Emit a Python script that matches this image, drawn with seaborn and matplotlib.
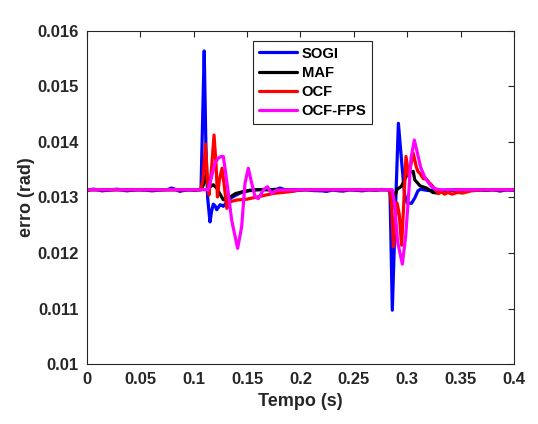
import matplotlib
matplotlib.use("Agg")
import matplotlib.pyplot as plt
import seaborn as sns
import pandas as pd

# ---------------- data ----------------
x_ticks = [0, 0.05, 0.1, 0.15, 0.2, 0.25, 0.3, 0.35, 0.4]
x_ticklabels = ["0", "0.05", "0.1", "0.15", "0.2", "0.25", "0.3", "0.35", "0.4"]
y_ticks = [0.010, 0.011, 0.012, 0.013, 0.014, 0.015, 0.016]
y_ticklabels = ["0.01", "0.011", "0.012", "0.013", "0.014", "0.015", "0.016"]

series_names = ["SOGI", "MAF", "OCF", "OCF-FPS"]
series_colors = ["#0000ff", "#000000", "#ff0000", "#ff00ff"]

sogi_t = [0.0, 0.003, 0.006, 0.010, 0.014, 0.019, 0.024, 0.028, 0.033, 0.037,
          0.042, 0.048, 0.054, 0.061, 0.066, 0.072, 0.076, 0.079, 0.083, 0.087,
          0.091, 0.096, 0.101, 0.1050, 0.1068, 0.1083, 0.1098, 0.1114, 0.1130,
          0.1152, 0.1168, 0.1183, 0.1200, 0.1215, 0.1230, 0.1246, 0.1262, 0.1277,
          0.1310, 0.1355, 0.1433, 0.1520, 0.1590, 0.1650, 0.1720, 0.1780, 0.1808,
          0.1855, 0.1920, 0.1980, 0.2050, 0.2120, 0.2200, 0.2245, 0.2300, 0.2360,
          0.2400, 0.2460, 0.2520, 0.2580, 0.2640, 0.2700, 0.2760, 0.2810, 0.2838,
          0.2860, 0.2888, 0.2917, 0.2945, 0.2975, 0.3000, 0.3040, 0.3070, 0.3100,
          0.3125, 0.3150, 0.3200, 0.3260, 0.3320, 0.3380, 0.3440, 0.3500, 0.3560,
          0.3620, 0.3680, 0.3740, 0.3800, 0.3870, 0.3930, 0.4000]
sogi_v = [0.013130, 0.013140, 0.013150, 0.013140, 0.013120, 0.013130, 0.013140, 0.013150, 0.013135, 0.013120,
          0.013130, 0.013140, 0.013135, 0.013120, 0.013130, 0.013140, 0.013145, 0.013170, 0.013145, 0.013110,
          0.013130, 0.013140, 0.013130, 0.013140, 0.013150, 0.014400, 0.015640, 0.013900, 0.013000,
          0.012560, 0.012760, 0.012880, 0.012850, 0.012780, 0.012820, 0.012870, 0.012860, 0.012840,
          0.012920, 0.013000, 0.013080, 0.013130, 0.013140, 0.013145, 0.013140, 0.013150, 0.013170,
          0.013140, 0.013115, 0.013130, 0.013140, 0.013125, 0.013120, 0.013110, 0.013135, 0.013120,
          0.013115, 0.013140, 0.013130, 0.013120, 0.013140, 0.013130, 0.013145, 0.013140, 0.013140,
          0.010970, 0.012700, 0.014337, 0.013700, 0.013050, 0.012900, 0.012895, 0.012990, 0.013120,
          0.013150, 0.013140, 0.013125, 0.013140, 0.013130, 0.013120, 0.013140, 0.013130, 0.013140,
          0.013125, 0.013140, 0.013130, 0.013145, 0.013115, 0.013140, 0.013130]

maf_t = [0.0, 0.1070, 0.1095, 0.1114, 0.1136, 0.1158, 0.1183, 0.1215, 0.1246, 0.1277,
         0.1310, 0.1343, 0.1390, 0.1468, 0.1590, 0.2000, 0.2838, 0.2855, 0.2880, 0.2905,
         0.2945, 0.2995, 0.3030, 0.3056, 0.3070, 0.3120, 0.3180, 0.3240, 0.3290, 0.3350, 0.4000]
maf_v = [0.013140, 0.013140, 0.013250, 0.013400, 0.013230, 0.013200, 0.013230, 0.013170, 0.013060, 0.012960,
         0.012960, 0.013010, 0.013070, 0.013110, 0.013140, 0.013140, 0.013140, 0.012790, 0.013000, 0.013150,
         0.013200, 0.013400, 0.013460, 0.013470, 0.013320, 0.013210, 0.013170, 0.013090, 0.013080, 0.013130, 0.013140]

ocf_t = [0.0, 0.1065, 0.1085, 0.1110, 0.1128, 0.1143, 0.1168, 0.1190, 0.1210, 0.1222,
         0.1240, 0.1265, 0.1287, 0.1310, 0.1343, 0.1405, 0.1500, 0.1593, 0.1750, 0.1905,
         0.2000, 0.2838, 0.2855, 0.2870, 0.2888, 0.2905, 0.2925, 0.2947, 0.2965, 0.2988,
         0.3015, 0.3035, 0.3056, 0.3085, 0.3100, 0.3120, 0.3150, 0.3180, 0.3200, 0.3235,
         0.3260, 0.3290, 0.3320, 0.3350, 0.3380, 0.3420, 0.3470, 0.3520, 0.3600, 0.3700, 0.4000]
ocf_v = [0.013140, 0.013140, 0.013300, 0.013964, 0.013300, 0.013045, 0.013555, 0.014126, 0.013560, 0.013010,
         0.013315, 0.013526, 0.013195, 0.012805, 0.012925, 0.012955, 0.012970, 0.013010, 0.013075, 0.013105,
         0.013140, 0.013140, 0.012800, 0.012110, 0.012600, 0.012900, 0.012700, 0.012140, 0.012800, 0.013740,
         0.013380, 0.013600, 0.013800, 0.013550, 0.013470, 0.013430, 0.013340, 0.013330, 0.013280, 0.013210,
         0.013150, 0.013070, 0.013100, 0.013060, 0.013090, 0.013060, 0.013090, 0.013080, 0.013120, 0.013140, 0.013140]

fps_t = [0.0, 0.1137, 0.1168, 0.1199, 0.1230, 0.1260, 0.1277, 0.1293, 0.1324, 0.1355,
         0.1411, 0.1449, 0.1480, 0.1511, 0.1543, 0.1574, 0.1605, 0.1652, 0.1690, 0.1730,
         0.1777, 0.2000, 0.2860, 0.2880, 0.2910, 0.2954, 0.2985, 0.3011, 0.3035, 0.3066,
         0.3095, 0.3125, 0.3160, 0.3195, 0.3225, 0.3260, 0.3300, 0.4000]
fps_v = [0.013140, 0.013140, 0.013380, 0.013620, 0.013710, 0.013740, 0.013740, 0.013526, 0.013075, 0.012595,
         0.012084, 0.012475, 0.013255, 0.013526, 0.013255, 0.013015, 0.012980, 0.013135, 0.013195, 0.013075,
         0.013135, 0.013140, 0.013140, 0.012900, 0.012200, 0.011800, 0.012300, 0.013000, 0.013700, 0.014036,
         0.013800, 0.013550, 0.013380, 0.013280, 0.013200, 0.013160, 0.013140, 0.013140]

# ---------------- plotting ----------------
sns.set_style("white")
plt.rcParams["font.family"] = ["Liberation Sans", "DejaVu Sans"]
plt.rcParams["font.weight"] = "bold"

fig = plt.figure(figsize=(5.38, 4.24), dpi=100)
ax = fig.add_axes([0.1617, 0.1415, 0.7937, 0.7854])

frames = []
for name, t, v in [("SOGI", sogi_t, sogi_v), ("MAF", maf_t, maf_v),
                   ("OCF", ocf_t, ocf_v), ("OCF-FPS", fps_t, fps_v)]:
    frames.append(pd.DataFrame({"t": t, "erro": v, "metodo": name}))
df = pd.concat(frames, ignore_index=True)

palette = dict(zip(series_names, series_colors))
for name in series_names:
    sub = df[df["metodo"] == name]
    sns.lineplot(data=sub, x="t", y="erro", color=palette[name], label=name,
                 linewidth=2.3, estimator=None, sort=False, ax=ax)

ax.set_xlim(0, 0.4)
ax.set_ylim(0.01, 0.016)
ax.set_xticks(x_ticks)
ax.set_xticklabels(x_ticklabels)
ax.set_yticks(y_ticks)
ax.set_yticklabels(y_ticklabels)
ax.tick_params(direction="in", length=4, width=0.8, top=True, right=True,
               labelsize=12, colors="#262626", pad=6)
for lab in ax.get_xticklabels() + ax.get_yticklabels():
    lab.set_fontweight("bold")
for sp in ax.spines.values():
    sp.set_visible(True)
    sp.set_color("#262626")
    sp.set_linewidth(0.8)

ax.set_xlabel("Tempo (s)", fontsize=13, fontweight="bold", color="#262626", labelpad=4)
ax.set_ylabel("erro (rad)", fontsize=13, fontweight="bold", color="#262626", labelpad=2)

leg = ax.legend(loc="upper left", bbox_to_anchor=(0.3895, 0.970), fontsize=10.6,
                frameon=True, fancybox=False, framealpha=1, edgecolor="#262626",
                handlelength=2.6, handletextpad=0.3, labelspacing=0.36,
                borderpad=0.38, borderaxespad=0)
leg.get_frame().set_linewidth(0.8)
for txt in leg.get_texts():
    txt.set_fontweight("bold")
    txt.set_color("black")

fig.savefig("out.png", dpi=100, facecolor="white")
